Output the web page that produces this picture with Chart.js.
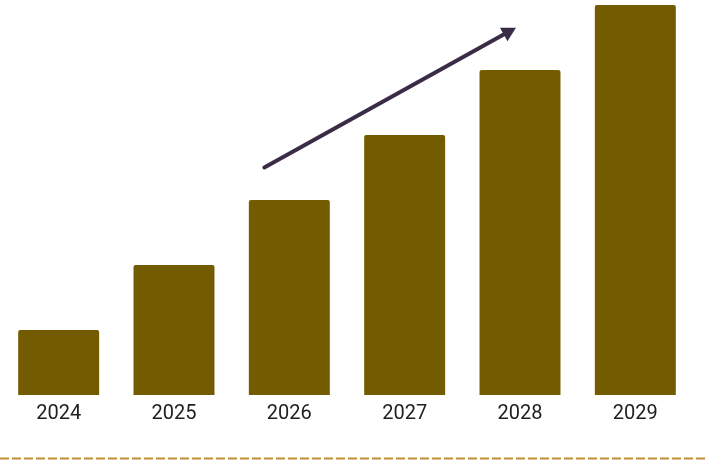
<!DOCTYPE html>
<html>
<head>
<meta charset="utf-8">
<script src="https://cdn.jsdelivr.net/npm/chart.js@4"></script>
<style>
    html, body { margin: 0; padding: 0; background: #ffffff; }
    #wrap { width: 706px; height: 464px; }
</style>
</head>
<body>
<div id="wrap"><canvas id="myChart"></canvas></div>
<script>
"use strict";

const years = ['2024', '2025', '2026', '2027', '2028', '2029'];
const marketSize = [1, 2, 3, 4, 5, 6];
const barColor = '#735c00';

// trend arrow + dashed rule under the axis
const decorations = {
    id: 'decorations',
    afterDatasetsDraw(chart) {
        const ctx = chart.ctx;
        const x = chart.scales.x;
        const y = chart.scales.y;

        const x0 = x.getPixelForValue(2) - 25;
        const y0 = y.getPixelForValue(3.5);
        const x1 = x.getPixelForValue(4) - 4;
        const y1 = y.getPixelForValue(5.65);

        ctx.save();
        ctx.strokeStyle = '#3a2b47';
        ctx.fillStyle = '#3a2b47';
        ctx.lineWidth = 4;
        ctx.lineCap = 'round';
        const ang = Math.atan2(y1 - y0, x1 - x0);
        const hx = x1 - Math.cos(ang) * 10;
        const hy = y1 - Math.sin(ang) * 10;
        ctx.beginPath();
        ctx.moveTo(x0, y0);
        ctx.lineTo(hx, hy);
        ctx.stroke();
        ctx.beginPath();
        ctx.moveTo(x1, y1);
        ctx.lineTo(x1 - Math.cos(ang - 0.5) * 16, y1 - Math.sin(ang - 0.5) * 16);
        ctx.lineTo(x1 - Math.cos(ang + 0.5) * 16, y1 - Math.sin(ang + 0.5) * 16);
        ctx.closePath();
        ctx.fill();

        ctx.strokeStyle = '#c28d36';
        ctx.lineWidth = 2;
        ctx.lineCap = 'butt';
        ctx.setLineDash([9, 3]);
        ctx.beginPath();
        ctx.moveTo(0, 458.5);
        ctx.lineTo(chart.width, 458.5);
        ctx.stroke();
        ctx.restore();
    }
};

new Chart(document.getElementById('myChart'), {
    type: 'bar',
    data: {
        labels: years,
        datasets: [{
            data: marketSize,
            backgroundColor: barColor,
            borderRadius: 2,
            borderSkipped: 'bottom',
            barPercentage: 0.85,
            categoryPercentage: 0.826
        }]
    },
    options: {
        responsive: true,
        maintainAspectRatio: false,
        animation: false,
        layout: { padding: { left: 1, right: 13, top: 5, bottom: 31 } },
        plugins: {
            legend: { display: false },
            tooltip: { enabled: false }
        },
        scales: {
            x: {
                grid: { display: false, drawTicks: false },
                border: { display: false },
                ticks: {
                    padding: 7,
                    color: '#1e1e1e',
                    font: { family: 'Roboto', size: 20 }
                }
            },
            y: {
                display: false,
                min: 0,
                max: 6
            }
        }
    },
    plugins: [decorations]
});
</script>
</body>
</html>
